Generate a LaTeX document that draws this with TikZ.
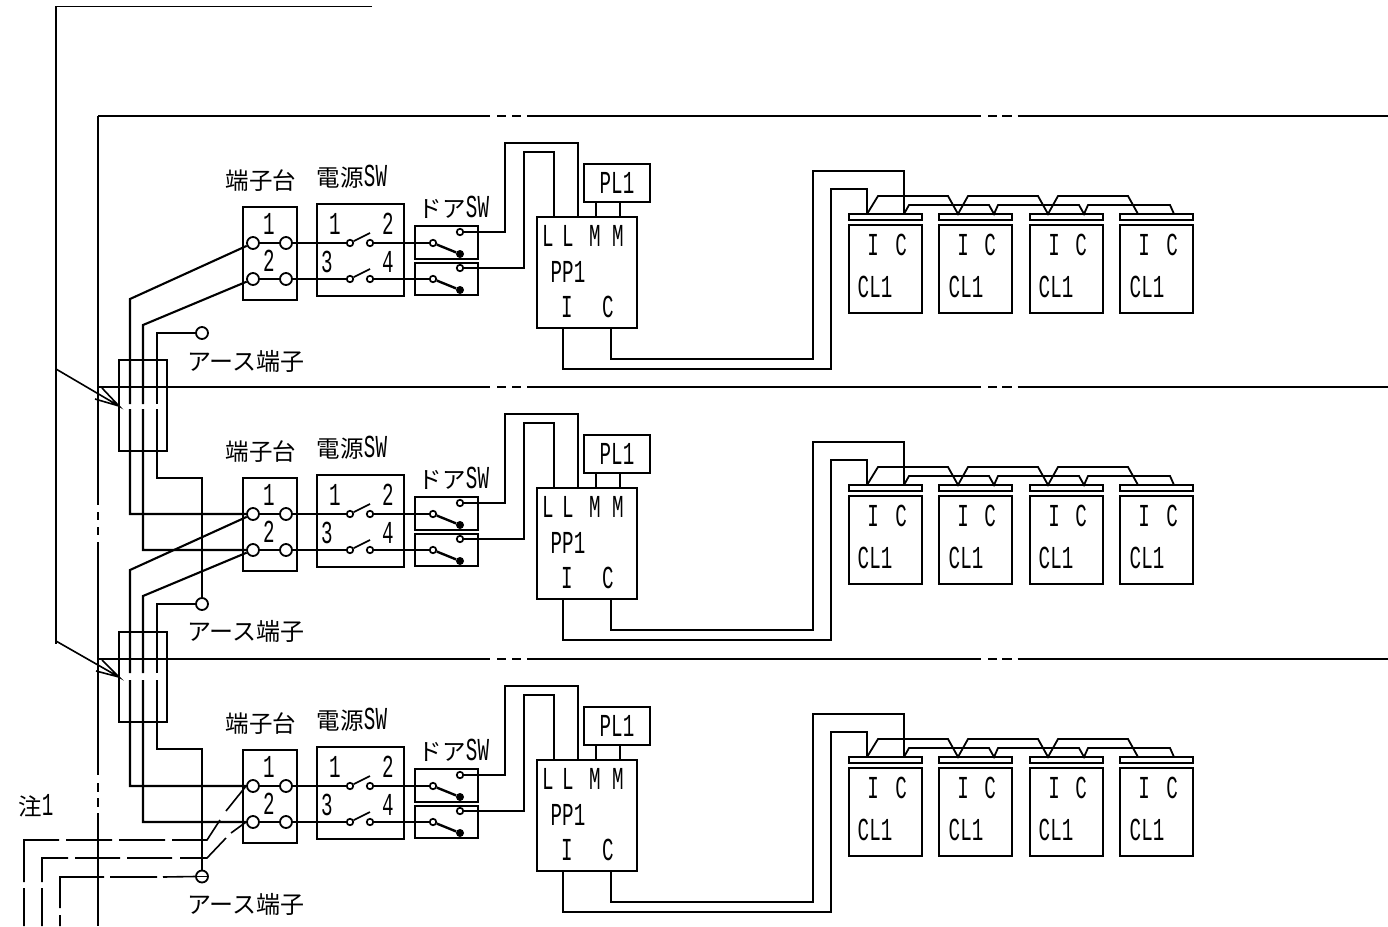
\documentclass[tikz,border=0pt]{standalone}
\usepackage{fontspec}
\setmainfont{Noto Sans CJK JP}
\newfontfamily\latinnarrow[FakeStretch=0.6]{Liberation Mono}
\newcommand{\jpsize}{\fontsize{23.5pt}{25pt}\selectfont}
\newcommand{\latsize}{\latinnarrow\fontsize{32pt}{33pt}\selectfont}
\tikzset{
  wire/.style={draw=black,line width=2.1pt,line join=miter},
  thin wire/.style={draw=black,line width=1.6pt},
  unitbox/.style={draw=black,line width=2.1pt,fill=none,outer sep=0pt},
  jp/.style={inner sep=0pt,font=\jpsize},
  lat/.style={inner sep=0pt,font=\latsize},
  term/.style={circle,draw=black,fill=white,line width=1.8pt,minimum size=12pt,inner sep=0pt},
  contact/.style={circle,draw=black,fill=white,line width=1.7pt,minimum size=6.5pt,inner sep=0pt},
  dotc/.style={circle,fill=black,minimum size=8pt,inner sep=0pt},
}
% one unit box given corners, #1 name, #2,#3 top-left, #4,#5 bottom-right
\newcommand{\ubox}[5]{\node[unitbox,anchor=north west,inner sep=0pt,minimum width=#4 pt-#2 pt,minimum height=#5 pt-#3 pt] (#1) at (#2,#3) {};}
\newcommand{\panel}[2]{%
\begin{scope}[shift={(0,#2)}]
  \ubox{tb#1}{243}{207}{297}{300}
  \ubox{sw#1}{317}{204}{404}{296}
  \ubox{da#1}{415}{226}{478}{259}
  \ubox{db#1}{415}{263}{478}{295}
  \ubox{pp#1}{537}{217}{637}{328}
  \ubox{pl#1}{584}{164}{650}{202}
  \node[term] (ta#1) at (253,243) {};
  \node[term] (tc#1) at (286,243) {};
  \node[term] (tb2#1) at (253,279) {};
  \node[term] (td#1) at (286,279) {};
  \node[contact] (sa#1) at (350,243) {};
  \node[contact] (sb#1) at (370,243) {};
  \node[contact] (sc#1) at (350,279) {};
  \node[contact] (sd#1) at (370,279) {};
  \coordinate (sae#1) at (370,233);
  \coordinate (sce#1) at (370,269);
  \node[contact] (dal#1) at (433,243) {};
  \node[contact] (dat#1) at (460,232) {};
  \node[dotc] (dad#1) at (460,254) {};
  \node[contact] (dbl#1) at (433,279) {};
  \node[contact] (dbt#1) at (460,268) {};
  \node[dotc] (dbd#1) at (460,290) {};
  \draw[wire] (ta#1) -- (tc#1);
  \draw[wire] (tb2#1) -- (td#1);
  \draw[wire] (tc#1) -- (sa#1);
  \draw[wire] (td#1) -- (sc#1);
  \draw[wire,line width=1.7pt] (sa#1) -- (sae#1);
  \draw[wire,line width=1.7pt] (sc#1) -- (sce#1);
  \draw[wire] (sb#1) -- (dal#1);
  \draw[wire] (sd#1) -- (dbl#1);
  \draw[wire,line width=2.4pt] (dal#1) -- (dad#1);
  \draw[wire,line width=2.4pt] (dbl#1) -- (dbd#1);
  \draw[wire] (dat#1) -- (505,232) -- (505,143) -- (578,143) -- (578,217);
  \draw[wire] (dbt#1) -- (524,268) -- (524,152) -- (554,152) -- (554,217);
  \draw[wire] (596,202) -- (596,217);
  \draw[wire] (620,202) -- (620,217);
  \draw[wire] (563,328) -- (563,369) -- (831,369) -- (831,189) -- (867,189) -- (867,214);
  \draw[wire] (611,328) -- (611,359) -- (813,359) -- (813,171) -- (904,171) -- (904,214);
  \foreach \n/\xa/\xb in {a/849/922,b/939/1012,c/1030/1103,d/1120/1193}{
    \ubox{st\n#1}{\xa}{214}{\xb}{220}
    \ubox{cl\n#1}{\xa}{225}{\xb}{313}
  }
  \draw[wire,line width=1.8pt] (867,214) -- (878,196) -- (948,196) -- (958,214) -- (968,196) -- (1038,196) -- (1048,214) -- (1058,196) -- (1128,196) -- (1138,214);
  \draw[wire,line width=1.8pt] (904,214) -- (909,205) -- (989,205) -- (994,214) -- (998,205) -- (1079,205) -- (1084,214) -- (1088,205) -- (1170,205) -- (1174,214);
  \node[jp] (l1#1) at (261,181) {端子台};
  \node[inner sep=0pt] (l2#1) at (352,177) {\jpsize 電源\latsize SW};
  \node[inner sep=0pt] (l3#1) at (454,207) {\jpsize ドア\latsize SW};
  \node[lat] (n1#1) at (269,224) {1};
  \node[lat] (n2#1) at (269,261) {2};
  \node[lat] (n3#1) at (335,224) {1};
  \node[lat] (n4#1) at (388,224) {2};
  \node[lat] (n5#1) at (327,262) {3};
  \node[lat] (n6#1) at (388,262) {4};
  \node[lat] (p1#1) at (548,236) {L};
  \node[lat] (p2#1) at (568,236) {L};
  \node[lat] (p3#1) at (595,236) {M};
  \node[lat] (p4#1) at (618,236) {M};
  \node[lat] (p5#1) at (568,272) {PP1};
  \node[lat] (p6#1) at (567,307) {I};
  \node[lat] (p7#1) at (608,307) {C};
  \node[lat] (p8#1) at (617,183) {PL1};
  \foreach \n/\xi/\xc/\xl in {a/873/901/875,b/963/990/966,c/1054/1081/1056,d/1144/1172/1147}{
    \node[lat] (ci\n#1) at (\xi,245) {I};
    \node[lat] (cc\n#1) at (\xc,245) {C};
    \node[lat] (cl\n#1t) at (\xl,287) {CL1};
  }
\end{scope}}
\begin{document}
\begin{tikzpicture}[x=1pt,y=-1pt]
\useasboundingbox (0,0) rectangle (1388,926);
\coordinate (topL) at (56,6.5);
\coordinate (topR) at (372,6.5);
\draw[thin wire] (topR) -- (topL) -- (56,644);
\foreach \y in {116,387,659}{
  \draw[wire] (98,\y) -- (490,\y) (497,\y) -- (506,\y) (512,\y) -- (521,\y) (527,\y) -- (981,\y)
    (988,\y) -- (997,\y) (1002,\y) -- (1012,\y) (1017.5,\y) -- (1388,\y);
}
\draw[thin wire] (98,116) -- (98,505) (98,512) -- (98,520) (98,527) -- (98,535) (98,542) -- (98,775)
  (98,783) -- (98,792) (98,798) -- (98,807) (98,813) -- (98,926);
\node[draw=black,line width=1.6pt,outer sep=0pt,anchor=north west,inner sep=0pt,minimum width=48pt,minimum height=91pt] (ca) at (119,360) {};
\node[draw=black,line width=1.6pt,outer sep=0pt,anchor=north west,inner sep=0pt,minimum width=48pt,minimum height=90pt] (cb) at (119,632) {};
\coordinate (tipa) at (119,406);
\coordinate (tipb) at (119,677);
\draw[thin wire] (56,369) -- (tipa) -- (102,388) (tipa) -- (95,399);
\draw[thin wire] (56,641) -- (tipb) -- (102,660) (tipb) -- (96,671);
\panel{A}{0}
\panel{B}{271}
\panel{C}{543}
\node[term] (ea) at (202,333) {};
\node[term] (eb) at (202,604) {};
\node[term] (ec) at (202,876.5) {};
\draw[wire] (taA) -- (130,299) -- (130,404) (130,409) -- (130,514) -- (taB);
\draw[wire] (tb2A) -- (143,325) -- (143,404) (143,409) -- (143,550) -- (tb2B);
\draw[thin wire] (ea) -- (157,333) -- (157,404) (157,409) -- (157,478) -- (202,478) -- (eb);
\draw[wire] (taB) -- (130,570) -- (130,673) (130,680) -- (130,786) -- (taC);
\draw[wire] (tb2B) -- (143,596) -- (143,673) (143,680) -- (143,822) -- (tb2C);
\draw[thin wire] (eb) -- (157,604) -- (157,673) (157,680) -- (157,749) -- (202,749) -- (ec);
\draw[thin wire] (ec.west) -- (ec.east);
\draw[thin wire] (24,926) -- (24,888) (24,882) -- (24,840) -- (59,840) (66,840) -- (112,840) (119,840) -- (165,840) (172,840) -- (207,840) -- (220,820) (226,811) -- (taC.west);
\draw[thin wire] (42,926) -- (42,888) (42,882) -- (42,858) -- (68,858) (75,858) -- (120,858) (127,858) -- (172,858) (180,858) -- (207,858) -- (226,838) (231,833) -- (tb2C.west);
\draw[thin wire] (60,926) -- (60,915) (60,908) -- (60,877) -- (104,877) (110,877) -- (157,877) (163,877) -- (ec.west);
\node[jp,anchor=west,font=\fontsize{24pt}{25pt}\selectfont] (e1) at (187,361) {アース端子};
\node[jp,anchor=west,font=\fontsize{24pt}{25pt}\selectfont] (e2) at (187,631) {アース端子};
\node[jp,anchor=west,font=\fontsize{24pt}{25pt}\selectfont] (e3) at (187,904) {アース端子};
\node[inner sep=0pt] (note) at (36,806) {\jpsize 注\latsize 1};
\end{tikzpicture}
\end{document}
